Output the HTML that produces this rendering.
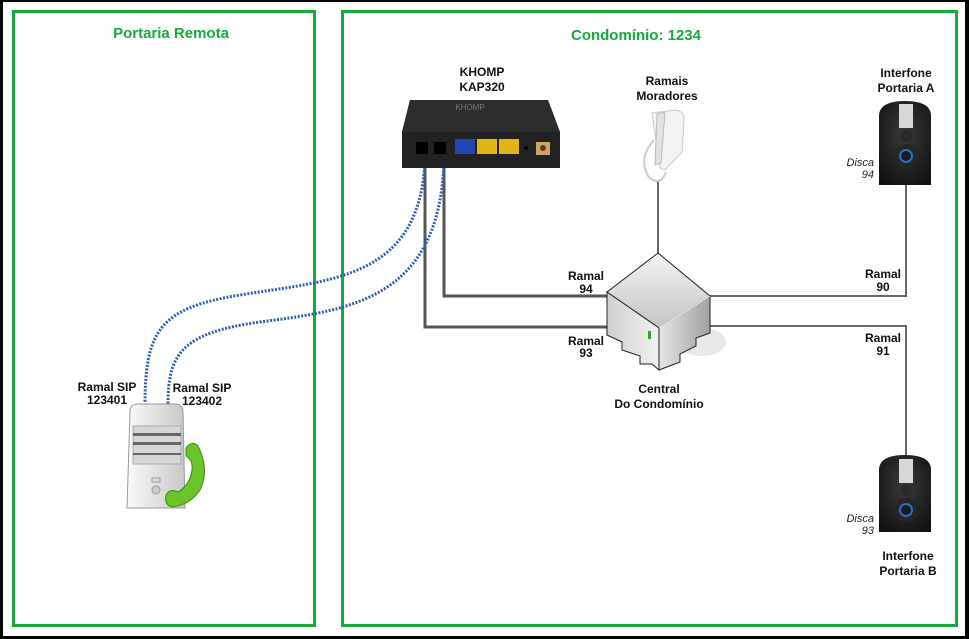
<!DOCTYPE html>
<html><head><meta charset="utf-8"><style>
html,body{margin:0;padding:0;background:#fff;}
svg{display:block;font-family:"Liberation Sans",sans-serif;}
.b{font-weight:bold;font-size:12px;fill:#111;}
.i{font-style:italic;font-size:11px;fill:#222;}
</style></head><body>
<svg width="969" height="639" viewBox="0 0 969 639">
<defs>
<linearGradient id="srv" x1="0" x2="1"><stop offset="0" stop-color="#fafafa"/><stop offset="1" stop-color="#c8c8c8"/></linearGradient>
<linearGradient id="cubeL" x1="0" x2="1"><stop offset="0" stop-color="#d0d0d0"/><stop offset="1" stop-color="#f2f2f2"/></linearGradient>
<linearGradient id="cubeR" x1="0" x2="1"><stop offset="0" stop-color="#e6e6e6"/><stop offset="1" stop-color="#a0a0a0"/></linearGradient>
<linearGradient id="cubeT" x1="0" y1="0" x2="0" y2="1"><stop offset="0" stop-color="#f4f4f4"/><stop offset="1" stop-color="#c4c4c4"/></linearGradient>
<radialGradient id="icb" cx="0.5" cy="0.4" r="0.7"><stop offset="0" stop-color="#3a3a3a"/><stop offset="1" stop-color="#111"/></radialGradient>
</defs>
<rect x="0" y="0" width="969" height="639" fill="#000"/>
<rect x="3" y="2" width="962" height="634" fill="#fff"/>
<rect x="13.5" y="11.5" width="301" height="614" fill="none" stroke="#14aa3c" stroke-width="3"/>
<rect x="342.5" y="11.5" width="614" height="614" fill="none" stroke="#14aa3c" stroke-width="3"/>
<text x="171" y="38" text-anchor="middle" font-weight="bold" font-size="15" fill="#14aa3c">Portaria Remota</text>
<text x="636" y="40" text-anchor="middle" font-weight="bold" font-size="15" fill="#14aa3c">Condomínio: 1234</text>

<polyline points="425,150 425,327 612,327" fill="none" stroke="#555" stroke-width="3"/>
<polyline points="444,150 444,296 612,296" fill="none" stroke="#555" stroke-width="3"/>
<polyline points="708,296 906,296 906,185" fill="none" stroke="#666" stroke-width="2"/>
<polyline points="708,326 906,326 906,455" fill="none" stroke="#666" stroke-width="2"/>
<line x1="658" y1="180" x2="658" y2="255" stroke="#666" stroke-width="2"/>

<path d="M425,160 C420,280 330,280 240,295 C160,308 145,330 145,405" fill="none" stroke="#2f5fae" stroke-width="3" stroke-dasharray="2,1.5"/>
<path d="M444,160 C440,300 350,310 260,322 C180,333 168,355 168,405" fill="none" stroke="#2f5fae" stroke-width="3" stroke-dasharray="2,1.5"/>

<text x="482" y="76" text-anchor="middle" class="b">KHOMP</text>
<text x="482" y="91" text-anchor="middle" class="b">KAP320</text>
<path d="M410,100 L548,100 L560,132 L560,168 L402,168 L402,132 Z" fill="#222"/>
<path d="M410,100 L548,100 L560,132 L402,132 Z" fill="#2c2c2c"/>
<text x="470" y="110" font-size="8" fill="#777" text-anchor="middle">KHOMP</text>
<rect x="416" y="142" width="12" height="12" fill="#000"/>
<rect x="434" y="142" width="12" height="12" fill="#000"/>
<rect x="455" y="139" width="20" height="15" fill="#2446b0"/>
<rect x="477" y="139" width="20" height="15" fill="#e0b515"/>
<rect x="499" y="139" width="20" height="15" fill="#e0b515"/>
<circle cx="526" cy="148" r="2" fill="#000"/>
<rect x="536" y="142" width="14" height="13" fill="#c9a56a"/>
<circle cx="543" cy="148" r="3" fill="#5a4020"/>

<text x="667" y="85" text-anchor="middle" class="b">Ramais</text>
<text x="667" y="100" text-anchor="middle" class="b">Moradores</text>
<path d="M652,113 L675,110 Q685,111 684,120 L682,152 L665,170 L660,168 Z" fill="#f3f3f3" stroke="#c8c8c8"/>
<path d="M657,114 L665,112 L661,163 L655,165 Z" fill="#e2e2e2" stroke="#bbb"/>
<path d="M654,140 Q638,158 648,176 Q660,188 666,172" fill="none" stroke="#ccc" stroke-width="2"/>

<ellipse cx="702" cy="342" rx="24" ry="14" fill="#e8e8e8"/>
<polygon points="658,253 710,296 659,328 607,292" fill="url(#cubeT)" stroke="#222"/>
<polygon points="607,292 659,328 659,370 652,364 640,364 640,356 622,350 622,342 607,335" fill="url(#cubeL)" stroke="#222"/>
<polygon points="659,328 710,296 710,333 696,338 696,346 680,354 680,362 659,370" fill="url(#cubeR)" stroke="#222"/>
<line x1="659" y1="328" x2="710" y2="296" stroke="#fff" stroke-width="1"/>
<rect x="648" y="331" width="3" height="8" fill="#3a9a3a"/>
<text x="659" y="393" text-anchor="middle" class="b">Central</text>
<text x="659" y="408" text-anchor="middle" class="b">Do Condomínio</text>

<text x="586" y="280" text-anchor="middle" class="b">Ramal</text>
<text x="586" y="293" text-anchor="middle" class="b">94</text>
<text x="586" y="345" text-anchor="middle" class="b">Ramal</text>
<text x="586" y="357" text-anchor="middle" class="b">93</text>
<text x="883" y="278" text-anchor="middle" class="b">Ramal</text>
<text x="883" y="291" text-anchor="middle" class="b">90</text>
<text x="883" y="342" text-anchor="middle" class="b">Ramal</text>
<text x="883" y="355" text-anchor="middle" class="b">91</text>

<text x="906" y="77" text-anchor="middle" class="b">Interfone</text>
<text x="906" y="92" text-anchor="middle" class="b">Portaria A</text>
<path d="M879,185 L879,116 Q879,101 905,101 Q931,101 931,116 L931,185 Z" fill="url(#icb)"/>
<rect x="899" y="104" width="14" height="24" fill="#d8d8d8"/>
<circle cx="906" cy="136" r="6" fill="#2a2a2a"/>
<circle cx="906" cy="156" r="12" fill="#262626"/>
<circle cx="906" cy="156" r="6" fill="#1a1a1a" stroke="#2c6fd0" stroke-width="2"/>
<text x="874" y="166" text-anchor="end" class="i">Disca</text>
<text x="874" y="178" text-anchor="end" class="i">94</text>

<path d="M879,532 L879,470 Q879,455 905,455 Q931,455 931,470 L931,532 Z" fill="url(#icb)"/>
<rect x="899" y="459" width="14" height="24" fill="#d8d8d8"/>
<circle cx="906" cy="490" r="6" fill="#2a2a2a"/>
<circle cx="906" cy="510" r="12" fill="#262626"/>
<circle cx="906" cy="510" r="6" fill="#1a1a1a" stroke="#2c6fd0" stroke-width="2"/>
<text x="874" y="522" text-anchor="end" class="i">Disca</text>
<text x="874" y="534" text-anchor="end" class="i">93</text>
<text x="908" y="560" text-anchor="middle" class="b">Interfone</text>
<text x="908" y="575" text-anchor="middle" class="b">Portaria B</text>

<text x="107" y="391" text-anchor="middle" class="b">Ramal SIP</text>
<text x="107" y="404" text-anchor="middle" class="b">123401</text>
<text x="202" y="392" text-anchor="middle" class="b">Ramal SIP</text>
<text x="202" y="405" text-anchor="middle" class="b">123402</text>
<path d="M130,412 Q130,404 138,404 L175,404 Q183,404 183,412 L185,508 L127,508 Z" fill="url(#srv)" stroke="#999"/>
<rect x="133" y="426" width="48" height="38" fill="#d6d6d6" stroke="#aaa"/>
<rect x="133" y="433" width="48" height="3" fill="#666"/>
<rect x="133" y="442" width="48" height="3" fill="#666"/>
<rect x="133" y="453" width="48" height="2" fill="#666"/>
<rect x="152" y="478" width="8" height="4" fill="#ddd" stroke="#999"/>
<circle cx="156" cy="490" r="4" fill="#ccc" stroke="#999"/>
<path d="M186,448 Q192,440 198,446 Q210,470 200,490 Q190,505 172,507 Q164,505 166,495 Q170,488 178,492 Q190,485 192,470 Q193,460 186,456 Z" fill="#6cc42a" stroke="#3a8a12"/>
</svg>
</body></html>
